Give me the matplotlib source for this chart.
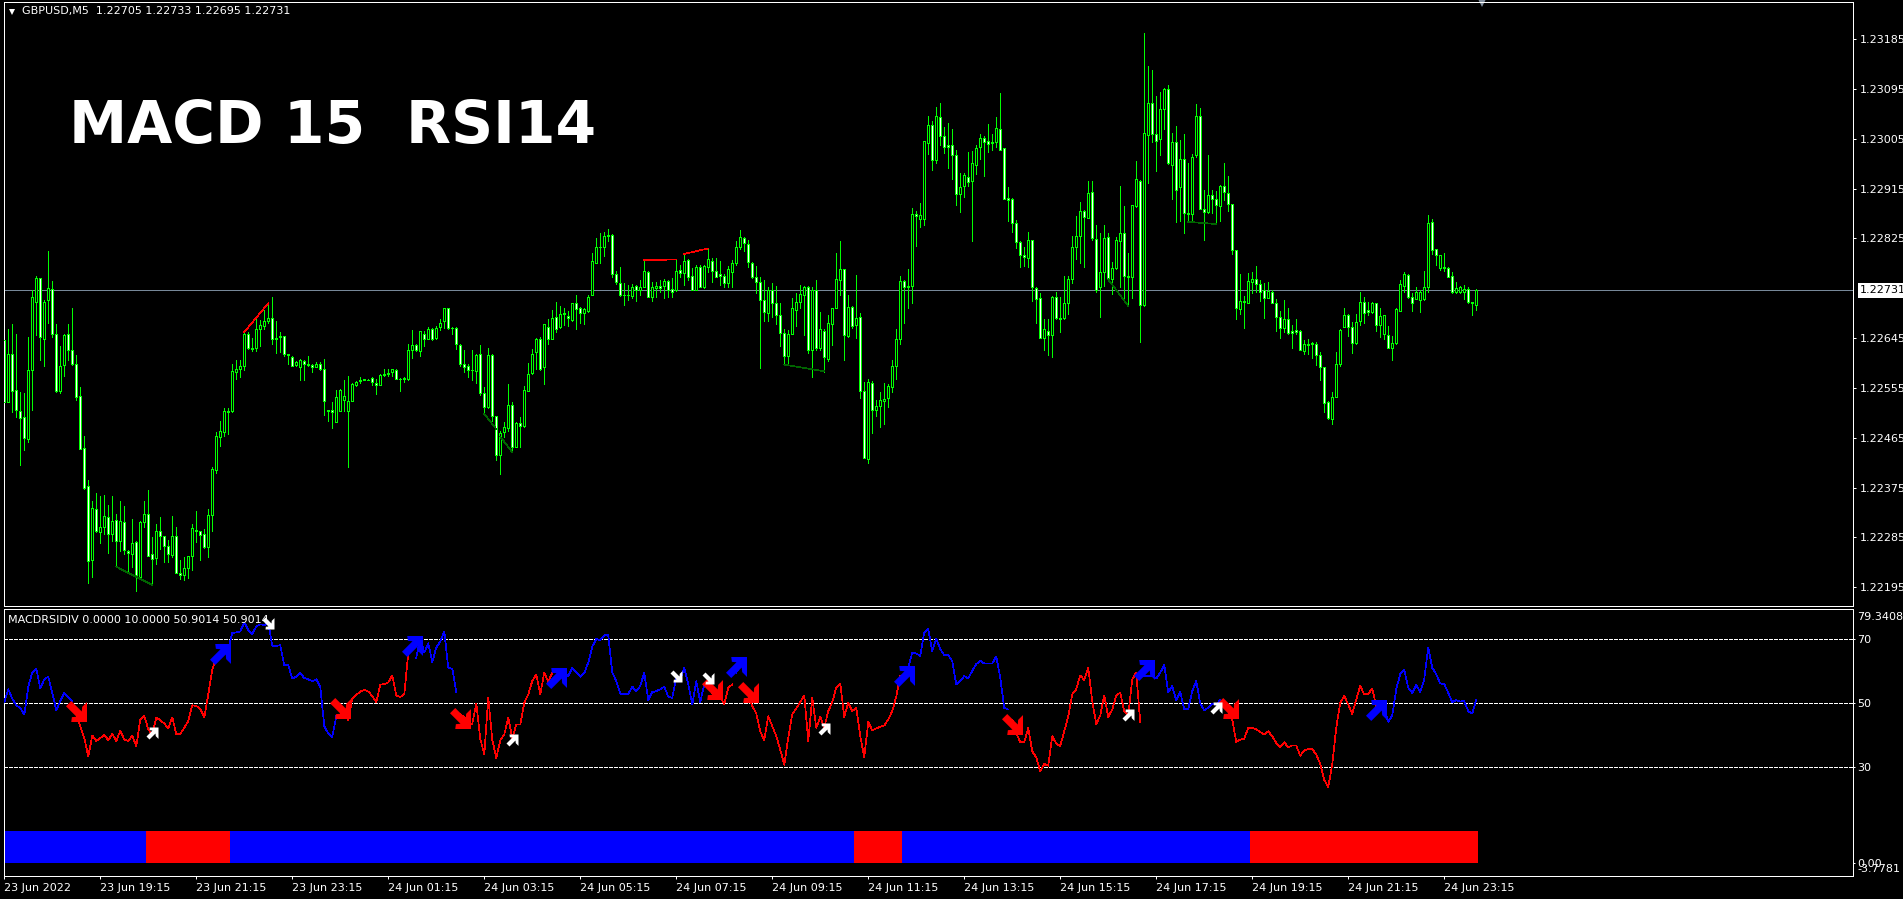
import matplotlib
matplotlib.use('Agg')
import matplotlib.pyplot as plt
import numpy as np
from matplotlib.path import Path

# GBPUSD M5 candles, fifth decimal points above 1.0
highs = [22684,22662,22670,22653,22548,22546,22647,22732,22757,22753,
22714,22803,22748,22670,22630,22653,22670,22700,22614,22556,
22469,22389,22351,22365,22359,22362,22344,22360,22328,22350,
22341,22262,22318,22279,22314,22351,22370,22286,22309,22322,
22288,22280,22324,22304,22244,22250,22251,22310,22333,22297,
22300,22336,22413,22476,22495,22519,22519,22598,22605,22606,
22656,22656,22646,22684,22678,22696,22708,22719,22676,22656,
22649,22617,22612,22603,22608,22605,22612,22598,22601,22601,
22607,22516,22529,22552,22553,22569,22576,22564,22568,22574,
22572,22572,22574,22572,22581,22589,22589,22590,22589,22573,
22574,22635,22659,22635,22658,22658,22665,22663,22667,22679,
22700,22700,22665,22665,22635,22623,22599,22623,22617,22632,
22557,22628,22616,22505,22478,22493,22562,22530,22493,22502,
22558,22600,22626,22646,22647,22671,22679,22696,22711,22703,
22699,22694,22709,22722,22702,22700,22723,22798,22826,22835,
22836,22842,22833,22767,22773,22744,22741,22743,22741,22750,
22786,22766,22747,22747,22750,22751,22750,22753,22786,22777,
22795,22787,22771,22777,22777,22777,22807,22789,22789,22785,
22761,22775,22786,22820,22841,22827,22823,22783,22775,22756,
22750,22737,22745,22739,22708,22661,22659,22717,22726,22741,
22740,22739,22737,22750,22693,22661,22687,22700,22798,22820,
22769,22723,22703,22759,22690,22566,22572,22568,22533,22548,
22564,22562,22606,22661,22757,22750,22769,22880,22875,22889,
23001,23046,23037,23063,23069,23027,23033,23023,22984,22944,
22943,22982,22983,22994,23014,23010,23031,23013,23045,23088,
22988,22918,22898,22859,22821,22810,22837,22822,22737,22726,
22680,22680,22721,22728,22720,22758,22757,22830,22866,22891,
22877,22929,22929,22850,22834,22850,22834,22783,22827,22920,
22884,22798,22886,22965,22930,23197,23136,23129,23082,23089,
23097,23103,23016,23028,23002,23014,22962,22978,23068,23061,
22913,22976,22913,22910,22922,22961,22938,22888,22805,22761,
22721,22762,22765,22776,22750,22744,22747,22731,22715,22694,
22714,22699,22668,22679,22659,22641,22644,22638,22638,22619,
22593,22532,22548,22619,22662,22700,22689,22674,22689,22728,
22719,22711,22710,22709,22700,22687,22667,22649,22699,22750,
22765,22761,22726,22737,22732,22766,22868,22860,22806,22795,
22798,22773,22765,22746,22739,22741,22737,22711,22733]

lows = [22525,22530,22511,22502,22415,22442,22457,22516,22650,22606,
22594,22672,22647,22548,22546,22576,22606,22596,22533,22445,
22373,22202,22214,22294,22274,22292,22256,22279,22232,22261,
22255,22222,22232,22188,22209,22304,22252,22199,22237,22264,
22240,22240,22250,22220,22209,22208,22212,22226,22276,22245,
22266,22250,22297,22401,22451,22469,22472,22512,22571,22575,
22587,22626,22622,22622,22630,22662,22672,22634,22618,22620,
22612,22598,22594,22595,22570,22570,22595,22583,22592,22587,
22507,22495,22482,22493,22514,22514,22412,22531,22559,22564,
22569,22569,22560,22544,22560,22576,22576,22576,22571,22549,
22566,22570,22609,22622,22613,22630,22643,22641,22644,22659,
22664,22662,22653,22626,22595,22583,22575,22569,22564,22543,
22508,22519,22495,22424,22399,22467,22478,22439,22448,22448,
22485,22550,22581,22590,22588,22562,22635,22643,22656,22664,
22668,22667,22676,22661,22672,22670,22693,22723,22780,22781,
22794,22821,22756,22742,22721,22705,22713,22717,22712,22723,
22737,22719,22712,22720,22729,22718,22719,22720,22730,22755,
22741,22750,22731,22731,22737,22735,22765,22747,22755,22741,
22738,22737,22737,22777,22806,22803,22774,22753,22727,22591,
22676,22675,22684,22670,22630,22596,22596,22652,22667,22699,
22650,22618,22575,22624,22623,22584,22604,22632,22699,22723,
22605,22647,22664,22646,22536,22428,22419,22473,22505,22484,
22490,22521,22548,22572,22634,22672,22700,22709,22812,22845,
22850,22978,22948,22962,22994,22979,22953,22933,22886,22872,
22899,22919,22821,22942,22969,22937,22982,22985,22991,22984,
22897,22856,22837,22807,22774,22775,22774,22712,22673,22645,
22624,22615,22611,22680,22656,22680,22689,22744,22787,22780,
22774,22862,22822,22729,22683,22739,22749,22725,22769,22738,
22715,22703,22717,22882,22638,22703,22925,22999,22947,22975,
23023,22960,22897,22854,22857,22834,22856,22855,22973,22879,
22822,22871,22871,22851,22857,22895,22874,22797,22680,22689,
22663,22708,22727,22729,22712,22682,22717,22708,22657,22645,
22656,22652,22627,22653,22623,22616,22617,22609,22597,22569,
22511,22499,22489,22538,22594,22665,22648,22618,22635,22669,
22673,22687,22691,22658,22647,22644,22627,22605,22634,22694,
22729,22717,22694,22715,22693,22714,22729,22797,22777,22768,
22767,22755,22727,22727,22727,22715,22708,22687,22695]

opens = [22641,22530,22617,22552,22514,22502,22463,22588,22710,22753,
22644,22713,22733,22652,22550,22596,22652,22624,22599,22541,
22447,22377,22244,22336,22294,22303,22322,22292,22316,22278,
22313,22261,22255,22277,22214,22313,22327,22255,22248,22296,
22287,22270,22254,22287,22220,22217,22229,22251,22298,22296,
22291,22267,22325,22406,22466,22475,22514,22513,22584,22589,
22595,22652,22627,22627,22661,22667,22675,22681,22643,22649,
22649,22617,22611,22597,22593,22604,22598,22597,22593,22599,
22589,22516,22516,22493,22514,22534,22514,22531,22560,22568,
22569,22570,22573,22563,22561,22580,22582,22583,22588,22572,
22573,22571,22624,22632,22622,22653,22644,22661,22646,22665,
22675,22700,22664,22664,22633,22599,22595,22588,22586,22617,
22546,22521,22615,22505,22434,22475,22482,22525,22448,22492,
22486,22550,22582,22620,22643,22593,22665,22644,22684,22665,
22690,22685,22678,22708,22699,22690,22694,22723,22781,22810,
22810,22829,22831,22760,22744,22723,22723,22721,22739,22731,
22738,22765,22720,22736,22740,22740,22749,22733,22731,22768,
22763,22786,22758,22732,22773,22738,22774,22784,22766,22761,
22758,22744,22765,22780,22809,22826,22815,22780,22756,22746,
22713,22690,22731,22709,22686,22655,22612,22653,22696,22710,
22723,22738,22623,22731,22627,22658,22607,22670,22700,22750,
22769,22649,22702,22668,22684,22550,22427,22564,22516,22522,
22531,22537,22557,22595,22643,22748,22737,22740,22869,22860,
22861,22998,23030,22966,23045,23010,22993,22994,22976,22906,
22919,22936,22928,22958,22990,23006,23001,23000,22999,23023,
22988,22898,22897,22853,22819,22795,22789,22822,22736,22717,
22646,22658,22650,22720,22682,22682,22708,22752,22810,22830,
22874,22862,22908,22824,22737,22765,22827,22751,22771,22821,
22834,22757,22755,22883,22929,22704,23012,23070,23013,23004,
23059,23095,22958,22999,22918,22969,22871,22869,22975,23047,
22879,22872,22904,22897,22883,22919,22907,22887,22805,22698,
22712,22709,22747,22751,22742,22731,22718,22729,22709,22683,
22664,22679,22657,22659,22658,22622,22635,22637,22635,22615,
22592,22529,22499,22538,22599,22665,22686,22665,22636,22675,
22711,22695,22693,22709,22668,22652,22650,22628,22636,22694,
22739,22759,22719,22716,22714,22715,22738,22855,22806,22771,
22773,22772,22757,22728,22728,22728,22733,22710,22705]

closes = [22530,22616,22550,22516,22501,22465,22588,22719,22753,22647,
22711,22735,22653,22550,22595,22650,22624,22598,22539,22445,
22374,22242,22338,22296,22304,22324,22292,22315,22278,22314,
22262,22256,22275,22217,22313,22327,22252,22246,22296,22287,
22270,22255,22287,22220,22217,22229,22251,22302,22296,22289,
22267,22325,22409,22469,22477,22514,22512,22586,22590,22595,
22652,22627,22626,22662,22668,22675,22682,22643,22646,22647,
22616,22615,22595,22601,22606,22598,22597,22593,22599,22589,
22531,22514,22511,22539,22551,22541,22532,22562,22566,22570,
22571,22570,22566,22561,22579,22578,22580,22589,22572,22571,
22571,22624,22632,22624,22657,22644,22661,22644,22664,22673,
22700,22664,22663,22635,22598,22592,22588,22587,22614,22545,
22521,22614,22505,22434,22473,22484,22525,22449,22492,22487,
22552,22581,22617,22643,22590,22670,22643,22682,22661,22689,
22688,22681,22708,22697,22690,22697,22720,22784,22810,22810,
22830,22831,22760,22747,22722,22722,22722,22737,22731,22738,
22767,22720,22737,22739,22736,22748,22731,22729,22767,22763,
22785,22756,22732,22773,22738,22775,22787,22766,22756,22757,
22745,22769,22780,22809,22827,22816,22783,22756,22747,22713,
22693,22732,22709,22687,22655,22612,22653,22700,22710,22724,
22738,22623,22732,22627,22661,22610,22673,22700,22751,22769,
22650,22702,22667,22682,22550,22429,22565,22516,22522,22533,
22535,22559,22595,22643,22748,22738,22740,22869,22865,22867,
23001,23030,22966,23046,23010,22991,22991,22976,22905,22918,
22940,22927,22962,22988,23007,22999,22996,22998,23025,22985,
22897,22895,22853,22819,22795,22791,22822,22737,22715,22646,
22662,22651,22720,22682,22679,22708,22751,22810,22830,22874,
22863,22907,22825,22732,22764,22825,22751,22771,22822,22834,
22757,22755,22885,22932,22704,23016,23070,23014,23001,23058,
23095,22961,22999,22913,22969,22871,22869,22973,23046,22879,
22872,22904,22897,22885,22920,22909,22887,22805,22699,22712,
22710,22749,22751,22742,22729,22718,22730,22709,22683,22664,
22679,22654,22654,22656,22624,22635,22633,22635,22615,22592,
22528,22501,22538,22599,22660,22686,22665,22636,22674,22711,
22691,22693,22708,22669,22685,22686,22628,22636,22697,22743,
22761,22719,22709,22729,22728,22738,22853,22804,22795,22795,
22771,22756,22728,22735,22737,22734,22711,22708,22731]

# indicator line, one value per bar
rsi = [50.2,54.2,51.3,49.2,48.4,46.3,55,59.4,60.6,54.4,
57.3,58.1,53.1,47.7,50.5,53.1,51.6,50.5,46.4,42.7,
39,33.3,39.8,38.1,39,40,38.3,40.3,38.1,41.3,
38.5,38.1,39.8,36.5,44.8,45.9,41.7,40.1,45.3,44.6,
43.5,42.1,45.4,40.3,40.3,42.2,44.3,49.2,49,48.1,
45.5,52.6,60.4,63.8,64.6,65.1,66.7,71.7,71.9,72.2,
75,72.7,71.4,73.8,74.4,74.2,74.8,67.7,67.7,67.9,
61.7,61.7,57.5,58.1,59.2,57.7,57.3,56.7,57.3,55,
42.7,40.4,39.4,45.8,46.4,46.9,44.6,51.4,52.4,53.5,
54,53.5,52.1,50.2,55.6,55.8,56.3,58.5,52.3,51.8,
52.6,65.6,66.9,64,70,65.6,68.5,62.7,67.2,69,
72.2,60.9,60.6,53.4,46.4,45.6,42.9,43.5,49.8,38.8,
33.9,51.6,38.5,32.8,38.3,40.1,45.3,39,43.2,43.2,
50,52.6,56.8,58.8,52.6,59.4,56.5,59.4,59.4,59.4,
59.4,58.3,60.9,59.6,58.1,59.2,62.5,67.5,69.8,69.5,
71,71,59.4,56.8,52.8,52.7,52.7,55,53.6,55.2,
59.4,50.8,53.3,53.6,54.2,55,51.9,51.5,57.8,57.3,
60.9,55.7,49.5,56.7,50.2,55.7,55,53.1,51.6,51.9,
49.5,54.7,55.7,59.4,61.5,61.5,52.6,49,46.7,41.1,
38.3,45.8,42.7,39.6,35.4,30.7,39.1,46.4,48.2,50.2,
52.3,38,51.6,42.2,45.6,42.2,47.4,50.2,54.7,56,
45.6,50,47.4,48.4,39.6,33,44,41.4,42,42.5,
42.9,44.8,47.4,51.9,58.3,60.4,60.9,65.6,65.3,64.6,
71.9,72.9,66.1,70,66.7,64.8,64.8,63,55.7,56.8,
58.3,57.6,59.9,62,63.1,62.2,62.2,62.2,64.4,57.8,
48.4,47.9,44.8,40.6,37.7,37.7,42.2,34.9,33,28.6,
31,30.4,39.6,37.3,36.5,41.1,45.8,52.6,54.2,58.5,
57.1,60.9,50.5,43.4,46,52.3,45.6,47.9,52.3,53.1,
47.4,46,57.3,59.4,44,58.3,58.3,58.3,57.5,59.4,
61.7,53.3,55.2,50.8,53.3,48.1,48.1,53.6,56.8,49.7,
47.7,48.4,49.7,49.5,50.8,49,47.4,44.8,37.8,38.5,
38.8,42.2,42.2,41.7,40.9,40.1,41.1,39.6,37.5,36.3,
37.7,36.1,36.7,36.7,33.5,35.2,35.6,35.6,33.9,31,
26,23.8,30.7,42.2,50,52.1,49.5,46.5,51,55.2,
52.6,52.8,54.4,49,49.5,47.9,44.1,46,54.2,58.9,
60.2,54.7,53.1,55.5,53.3,57.3,67.2,60.9,58.9,56,
55.8,53.1,50.2,50.8,50.4,50.5,47.4,46.6,50.9]

# first and last bar of each coloured stretch of the line
line_blue = [(0, 17), (55, 83), (103, 113), (138, 175), (183, 185), (225, 251), (285, 304), (344, 368)]
line_red = [(18, 54), (84, 102), (114, 137), (176, 182), (186, 224), (252, 284), (305, 343)]

# stretches of the 0..10 histogram
hist_blue = [(0, 35), (57, 212), (225, 311)]
hist_red = [(36, 56), (213, 224), (312, 368)]

# signal arrows as (bar, indicator value)
arrows_blue = [(54, 65.1), (102, 67.6), (138, 57.6), (183, 61), (225, 58.2), (285, 60.1), (343, 47.6)]
arrows_red = [(18, 47.3), (84, 48.5), (114, 45.4), (177, 54.2), (186, 53.5), (252, 43.5), (306, 48.5)]
arrows_white_up = [(37, 40.7), (127, 38.5), (205, 41.7), (281, 46.3), (303, 48.5)]
arrows_white_down = [(66, 74.8), (168, 58.2), (176, 57.6)]

# divergence lines on the price chart as (bar1, points1, bar2, points2)
div_red = [(60, 22656, 66, 22708), (160, 22786, 168, 22787), (170, 22797, 176, 22807)]
div_green = [(28, 22232, 37, 22199), (120, 22508, 123, 22481), (124, 22467, 127, 22439),
             (195, 22597, 205, 22585), (276, 22751, 281, 22703), (296, 22855, 303, 22851)]

price_ticks = [1.23185, 1.23095, 1.23005, 1.22915, 1.22825, 1.22645, 1.22555,
               1.22465, 1.22375, 1.22285, 1.22195]
bid = 1.22731
time_labels = ['23 Jun 2022', '23 Jun 19:15', '23 Jun 21:15', '23 Jun 23:15', '24 Jun 01:15',
               '24 Jun 03:15', '24 Jun 05:15', '24 Jun 07:15', '24 Jun 09:15', '24 Jun 11:15',
               '24 Jun 13:15', '24 Jun 15:15', '24 Jun 17:15', '24 Jun 19:15', '24 Jun 21:15',
               '24 Jun 23:15']

plt.rcParams['font.family'] = 'DejaVu Sans'
W, H = 1903, 899
PX = 0.72  # one pixel in points at dpi 100
THIN = 0.5  # aliased diagonal lines come out one pixel wide at this width
GREEN = '#00ff00'


def to_price(points):
    return 1 + np.asarray(points, dtype=float) / 1e5


def px_axes(fig, left, top, right, bottom):
    ax = fig.add_axes([left / W, 1 - bottom / H, (right - left) / W, (bottom - top) / H])
    ax.set_facecolor('black')
    for s in ax.spines.values():
        s.set_color('white')
        s.set_linewidth(PX)
    return ax


def arrow_marker(up):
    verts = [(.25, 1), (1, 1), (1, .05), (.77, .28), (.75, .5), (.25, 0), (0, .25), (.5, .75), (.28, .77), (.25, 1)]
    verts = np.array(verts) - .5
    if not up:
        verts[:, 1] = -verts[:, 1]
    return Path(verts, closed=True)


fig = plt.figure(figsize=(W / 100, H / 100), dpi=100, facecolor='black')
ax1 = px_axes(fig, 3.5, 1.5, 1853, 605.5)
ax2 = px_axes(fig, 3.5, 608.5, 1853, 875.5)

xs = np.arange(len(closes))
o, c = to_price(opens), to_price(closes)

# price panel
ax1.axhline(bid, color='#778899', lw=PX, zorder=1)
ax1.vlines(xs, to_price(lows), to_price(highs), color=GREEN, lw=PX, zorder=2, antialiased=False)
ax1.bar(xs, np.abs(c - o), bottom=np.minimum(o, c), width=0.5,
        color=['white' if a > b else 'black' for a, b in zip(o, c)],
        edgecolor=GREEN, linewidth=PX, zorder=3, antialiased=False)
for x1, p1, x2, p2 in div_red:
    ax1.plot([x1, x2], to_price([p1, p2]), color='#ff0000', lw=THIN, zorder=4, antialiased=False)
for x1, p1, x2, p2 in div_green:
    ax1.plot([x1, x2], to_price([p1, p2]), color='#006400', lw=THIN, zorder=4, antialiased=False)

ax1.set_xlim(-0.2, 462.2)
ax1.set_ylim(1.22162, 1.23253)
ax1.set_xticks([])
ax1.yaxis.tick_right()
ax1.set_yticks(price_ticks)
ax1.set_yticklabels(['%.5f' % p for p in price_ticks])
ax1.tick_params(axis='y', colors='white', labelsize=8, length=3 * PX, width=PX, pad=3)

ax1.annotate('%.5f' % bid, xy=(1, bid), xycoords=('axes fraction', 'data'), xytext=(5, 0),
             textcoords='offset points', va='center', fontsize=8, color='black',
             bbox=dict(fc='white', ec='none', pad=1.5))
ax1.annotate('GBPUSD,M5  1.22705 1.22733 1.22695 1.22731', xy=(0, 1), xycoords='axes fraction',
             xytext=(13, -7), textcoords='offset points', va='center', fontsize=8, color='white')
ax1.plot([0.0048], [0.982], 'v', transform=ax1.transAxes, color='white', ms=5, mew=0)
ax1.plot([0.7995], [0.997], 'v', transform=ax1.transAxes, color='#7f8c9c', ms=6, mew=0, clip_on=False)
ax1.annotate('MACD 15  RSI14', xy=(0, 1), xycoords='axes fraction', xytext=(47, -90),
             textcoords='offset points', va='center', fontsize=42, fontweight='bold', color='white')

# indicator panel
for (a, b) in hist_blue:
    ax2.bar(xs[a:b + 1], 10, width=1, color='#0000ff', antialiased=False, zorder=1)
for (a, b) in hist_red:
    ax2.bar(xs[a:b + 1], 10, width=1, color='#ff0000', antialiased=False, zorder=1)
for level in (70, 50, 30):
    ax2.axhline(level, color='white', lw=PX, ls=(0, (3, 2)), zorder=2, antialiased=False)
rsi_arr = np.array(rsi)
for (a, b) in line_blue:
    ax2.plot(xs[a:b + 1], rsi_arr[a:b + 1], color='#0000ff', lw=THIN, zorder=3, antialiased=False)
for (a, b) in line_red:
    ax2.plot(xs[a:b + 1], rsi_arr[a:b + 1], color='#ff0000', lw=THIN, zorder=3, antialiased=False)

for points, col, up, size in [(arrows_blue, '#0000ff', True, 21 * PX), (arrows_red, '#ff0000', False, 21 * PX),
                              (arrows_white_up, 'white', True, 12 * PX), (arrows_white_down, 'white', False, 12 * PX)]:
    ax2.plot([p[0] for p in points], [p[1] for p in points], ls='none', marker=arrow_marker(up),
             ms=size, mew=0, color=col, zorder=4)

ax2.set_xlim(-0.2, 462.2)
ax2.set_ylim(-3.7781, 79.3408)
ax2.yaxis.tick_right()
ax2.set_yticks([70, 50, 30, 0])
ax2.set_yticklabels(['70', '50', '30', '0.00'])
ax2.tick_params(axis='y', colors='white', labelsize=8, length=2 * PX, width=PX, pad=1.5)
ax2.annotate('79.3408', xy=(1, 1), xycoords='axes fraction', xytext=(3, -6), textcoords='offset points',
             va='center', fontsize=8, color='white')
ax2.annotate('-3.7781', xy=(1, 0), xycoords='axes fraction', xytext=(3, 5), textcoords='offset points',
             va='center', fontsize=8, color='white')
ax2.annotate('MACDRSIDIV 0.0000 10.0000 50.9014 50.9014', xy=(0, 1), xycoords='axes fraction',
             xytext=(3.2, -8), textcoords='offset points', va='center', fontsize=8, color='white', zorder=5)

ax2.set_xticks(np.arange(len(time_labels)) * 24)
ax2.set_xticklabels(time_labels, ha='left')
ax2.tick_params(axis='x', colors='white', labelsize=8, length=3 * PX, width=PX, pad=3)

fig.savefig('out.png', dpi=100, facecolor='black')
